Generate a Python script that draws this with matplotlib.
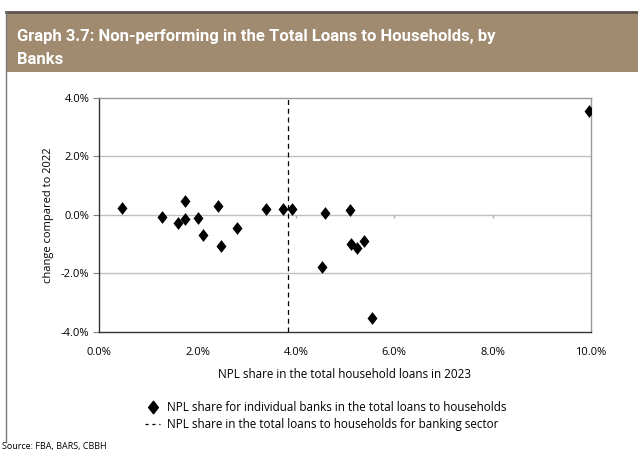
import numpy as np
import matplotlib.pyplot as plt
from matplotlib.path import Path
from matplotlib.lines import Line2D
import matplotlib.patches as mpatches

# данные: доля NPL в 2023 и изменение к 2022 (в %)
npl_2023 = [0.47, 1.28, 1.60, 1.74, 1.75, 2.01, 2.12, 2.42, 2.48, 2.80,
            3.40, 3.74, 3.92, 4.60, 4.53, 5.10, 5.13, 5.24, 5.38, 5.55, 9.96]
change_vs_2022 = [0.23, -0.07, -0.27, -0.16, 0.48, -0.11, -0.70, 0.30, -1.07, -0.46,
                  0.21, 0.18, 0.18, 0.05, -1.78, 0.17, -1.00, -1.14, -0.89, -3.54, 3.53]
sector_npl = 3.84

x_ticks = [0, 2, 4, 6, 8, 10]
y_ticks = [-4, -2, 0, 2, 4]

title = "Graph 3.7: Non-performing in the Total Loans to Households, by\nBanks"
font = "Open Sans"

# ромб как в Excel
diamond = Path([(0, 1), (0.78, 0), (0, -1), (-0.78, 0), (0, 1)],
               [Path.MOVETO, Path.LINETO, Path.LINETO, Path.LINETO, Path.CLOSEPOLY])

fig = plt.figure(figsize=(6.38, 4.55), dpi=100)

# шапка
fig.patches.append(mpatches.Rectangle((6 / 638, 1 - 72 / 455), 1, 60 / 455,
                                      transform=fig.transFigure, facecolor="#a18b70",
                                      edgecolor="none", zorder=0))
fig.add_artist(Line2D([6 / 638, 1], [1 - 12 / 455, 1 - 12 / 455], color="#5b534b", lw=2))
fig.add_artist(Line2D([6 / 638, 6 / 638], [1 - 12 / 455, 1 - 442 / 455], color="#777777", lw=1))
fig.text(17 / 638, 1 - 48 / 455, title, color="white", fontsize=12, fontweight="bold",
         family="Roboto", va="center", ha="left", linespacing=1.6)

ax = fig.add_axes([99 / 638, 1 - 331.7 / 455, 492 / 638, 234 / 455])
ax.scatter(npl_2023, change_vs_2022, marker=diamond, s=85, color="black", zorder=3, linewidths=0)
ax.axvline(sector_npl, color="black", lw=0.9, dashes=(4, 3), zorder=2)

ax.set_xlim(0, 10)
ax.set_ylim(-4, 4)
ax.set_xticks(x_ticks)
ax.set_yticks(y_ticks)
ax.set_xticklabels([f"{v:.1f}%" for v in x_ticks], family=font, fontsize=8)
ax.set_yticklabels([f"{v:.1f}%" for v in y_ticks], family=font, fontsize=8)
ax.tick_params(axis="x", length=0, pad=11)
ax.tick_params(axis="y", length=4, width=0.8, color="#808080", pad=3)

for y in [-2, 0, 2]:
    ax.axhline(y, color="#c0c0c0", lw=1, zorder=1)
# засечки оси X на нуле
ax.vlines(x_ticks[1:], -0.12, 0, color="#b0b0b0", lw=1, zorder=1)

for s in ["top", "right"]:
    ax.spines[s].set_color("#999999")
for s in ["left", "bottom"]:
    ax.spines[s].set_color("#333333")
for s in ax.spines.values():
    s.set_linewidth(1)

ax.set_xlabel("NPL share in the total household loans in 2023", family=font, fontsize=8.4, labelpad=7)
ax.set_ylabel("change compared to 2022", family=font, fontsize=8, labelpad=5)

handles = [Line2D([], [], marker=diamond, color="black", ls="none", markersize=9),
           Line2D([], [], color="black", lw=0.9, dashes=(2.5, 3))]
labels = ["NPL share for individual banks in the total loans to households",
          "NPL share in the total loans to households for banking sector"]
fig.legend(handles, labels, loc="center", bbox_to_anchor=(326 / 638, 1 - 416 / 455),
           frameon=False, prop={"family": font, "size": 8.4}, handlelength=1.3,
           handletextpad=0.6, labelspacing=0.35, borderpad=0)

fig.text(2 / 638, 1 - 447 / 455, "Source: FBA, BARS, CBBH", family=font, fontsize=6.5,
         va="center", ha="left")

fig.savefig("out.png", dpi=100)
